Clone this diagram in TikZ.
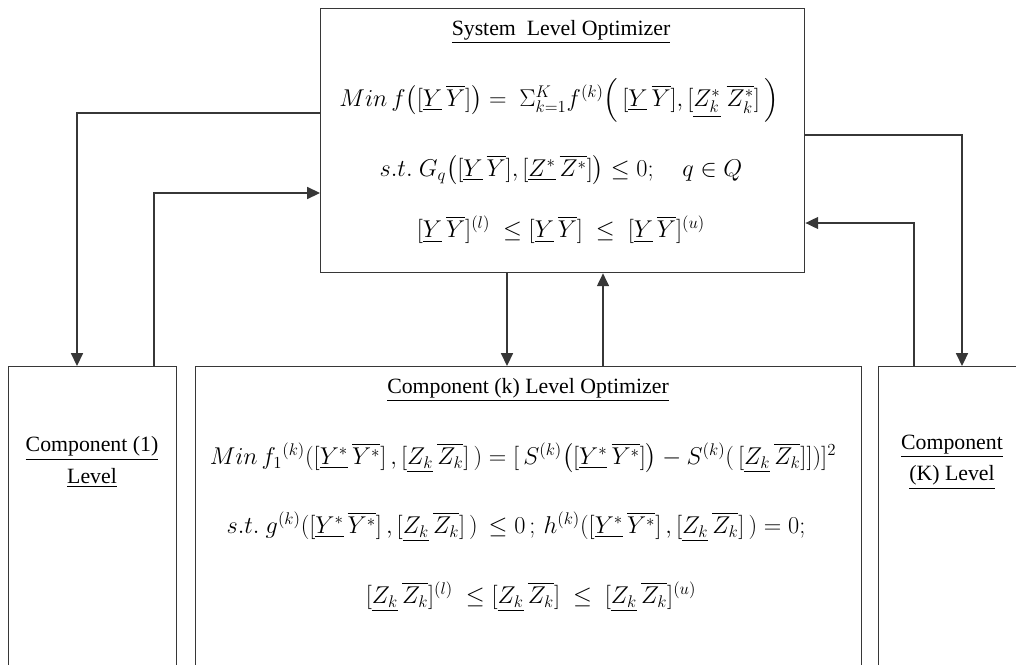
\documentclass[tikz,border=0pt]{standalone}
\usepackage{amsmath}
\usepackage{fontspec}
\setmainfont{Liberation Serif}
\usepackage{tikz}
\usetikzlibrary{arrows.meta,positioning}
\definecolor{linea}{RGB}{55,55,55}
\newcommand{\YY}{[\underline{Y}\,\overline{Y}]}
\newcommand{\YYs}{[\underline{Y^*}\,\overline{Y^*}]}
\newcommand{\ZZk}{[\underline{Z_k}\,\overline{Z_k}]}

\begin{document}
\begin{tikzpicture}[x=0.025cm,y=-0.025cm,
caja/.style={draw=linea,line width=0.9pt,inner sep=0pt,anchor=north west},
txt/.style={font=\fontsize{15.5}{22.5}\selectfont,inner sep=1pt},
eq/.style={font=\fontsize{17.5}{21}\selectfont,inner sep=1pt},
arr/.style={draw=linea,line width=0.9pt,-{Triangle[length=3.2mm,width=3mm]}}
]
\useasboundingbox (0,0) rectangle (1016,664);
\clip (0,0) rectangle (1016,664);

\node[caja,minimum width=12.1cm,minimum height=6.6cm] (sys) at (320,8) {};
\node[caja,minimum width=4.2cm,minimum height=9cm] (c1) at (8,366) {};
\node[caja,minimum width=16.65cm,minimum height=9cm] (ck) at (195,366) {};
\node[caja,minimum width=4.6cm,minimum height=9cm] (cK) at (878,366) {};

% system level
\node[txt] (sysT) at (561,32) {\underline{System\ \ Level Optimizer}};
\node[eq] (sysA) at (559,100) {$Min\,f\big(\YY\big)=\ \Sigma_{k=1}^{K}f^{(k)}\Big(\,\YY,[\underline{Z_k^*}\ \overline{Z_k^*}]\,\Big)$};
\node[eq] (sysB) at (561,170) {$s.t.\ G_q\big(\YY,[\underline{Z^*}\,\overline{Z^*}]\big)\le 0;\quad q\in Q$};
\node[eq] (sysC) at (561,230) {$\YY^{(l)}\ \le\YY\ \le\ \YY^{(u)}$};

% component k
\node[txt] (ckT) at (528,390) {\underline{Component (k) Level Optimizer}};
\node[eq] (ckA) at (523,458) {$Min\,f_1{}^{(k)}(\YYs\,,\ZZk\,)=[\,S^{(k)}\big(\YYs\big)-S^{(k)}(\,\ZZk])]^2$};
\node[eq] (ckB) at (516,527) {$s.t.\ g^{(k)}(\YYs\,,\ZZk\,)\,\le 0\,;\,h^{(k)}(\YYs\,,\ZZk\,)=0;$};
\node[eq] (ckC) at (531,597) {$\ZZk^{(l)}\ \le\ZZk\ \le\ \ZZk^{(u)}$};

% side components
\node[txt,align=center] (c1T) at (92,462) {\underline{Component (1)}\\\underline{Level}};
\node[txt,align=center] (cKT) at (952,462) {\underline{Component}\\\underline{(K) Level}};

% connectors
\coordinate (l1) at (77,113);
\coordinate (l2) at (154,193);
\coordinate (m1) at (507,0);
\coordinate (m2) at (603,0);
\coordinate (r1) at (962,135);
\coordinate (r2) at (914,223);
\draw[arr] (sys.west |- l1) -- (l1) -- (c1.north -| l1);
\draw[arr] (c1.north -| l2) -- (l2) -- (sys.west |- l2);
\draw[arr] (sys.south -| m1) -- (ck.north -| m1);
\draw[arr] (ck.north -| m2) -- (sys.south -| m2);
\draw[arr] (sys.east |- r1) -- (r1) -- (cK.north -| r1);
\draw[arr] (cK.north -| r2) -- (r2) -- (sys.east |- r2);
\end{tikzpicture}
\end{document}
